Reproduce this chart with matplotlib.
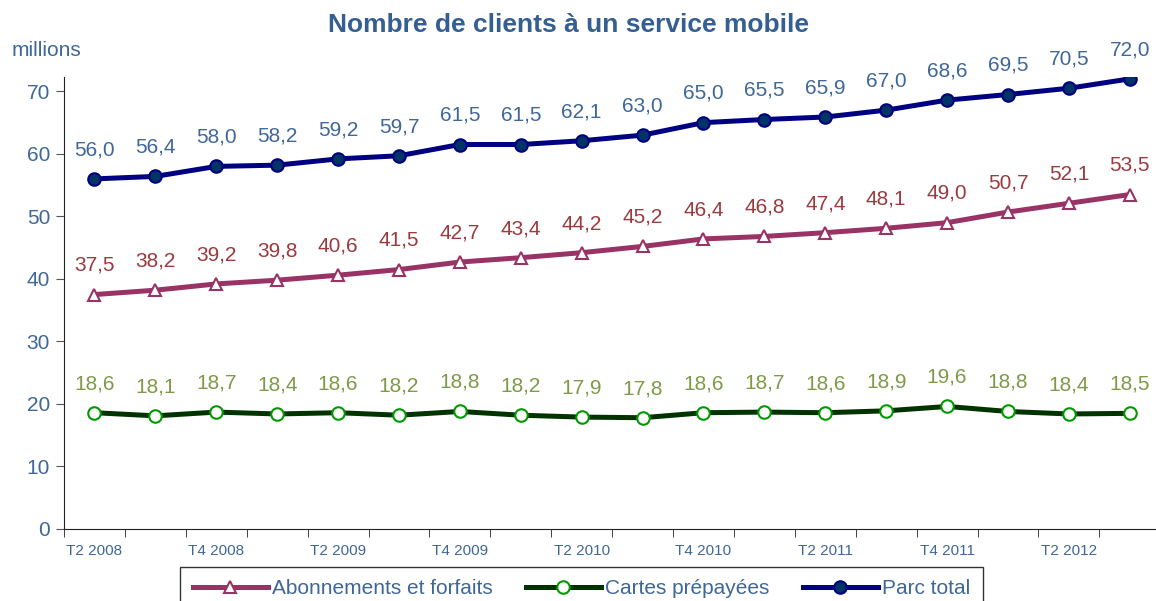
import matplotlib
matplotlib.use("Agg")
import matplotlib.pyplot as plt
import numpy as np

plt.rcParams['font.family'] = ['Liberation Sans', 'DejaVu Sans']

quarters = ["T2 2008", "T3 2008", "T4 2008", "T1 2009", "T2 2009", "T3 2009",
            "T4 2009", "T1 2010", "T2 2010", "T3 2010", "T4 2010", "T1 2011",
            "T2 2011", "T3 2011", "T4 2011", "T1 2012", "T2 2012", "T3 2012"]
abonnements = [37.5, 38.2, 39.2, 39.8, 40.6, 41.5, 42.7, 43.4, 44.2, 45.2,
               46.4, 46.8, 47.4, 48.1, 49.0, 50.7, 52.1, 53.5]
prepayees = [18.6, 18.1, 18.7, 18.4, 18.6, 18.2, 18.8, 18.2, 17.9, 17.8,
             18.6, 18.7, 18.6, 18.9, 19.6, 18.8, 18.4, 18.5]
parc_total = [56.0, 56.4, 58.0, 58.2, 59.2, 59.7, 61.5, 61.5, 62.1, 63.0,
              65.0, 65.5, 65.9, 67.0, 68.6, 69.5, 70.5, 72.0]

text_blue = "#3F6797"

fig = plt.figure(figsize=(11.56, 6.01), dpi=100)
ax = fig.add_axes([64 / 1156, 1 - 529 / 601, 1 - 64 / 1156, (529 - 77) / 601])

x = np.arange(len(quarters))

series = [
    (abonnements, "Abonnements et forfaits", "#993366", "^", "white", "#993366", "#9B3A3F"),
    (prepayees, "Cartes prépayées", "#003300", "o", "white", "#009900", "#7E9A48"),
    (parc_total, "Parc total", "#000080", "o", "#003366", "#000080", "#3F6797"),
]

for vals, name, lc, mk, mfc, mec, tc in series:
    ax.plot(x, vals, color=lc, lw=3.6, marker=mk, markersize=9, markerfacecolor=mfc,
            markeredgecolor=mec, markeredgewidth=1.5, label=name, zorder=3)
    for xi, v in zip(x, vals):
        ax.annotate(f"{v:.1f}".replace(".", ","), (xi, v), xytext=(0, 21),
                    textcoords="offset points", ha="center", va="center",
                    fontsize=15, color=tc)

ax.set_xlim(-0.5, 17.43)
ax.set_ylim(0, 72.3)
ax.set_yticks(np.arange(0, 71, 10))
ax.tick_params(axis='y', labelsize=15, labelcolor=text_blue, direction='out', length=6,
               color="#555555", pad=4)

ax.set_xticks(x[::2])
ax.set_xticklabels(quarters[::2])
ax.set_xticks(np.arange(-0.5, 17.5, 1), minor=True)
ax.tick_params(axis='x', which='major', length=0, labelsize=11, labelcolor=text_blue, pad=11)
ax.tick_params(axis='x', which='minor', length=6, direction='out', color="#222222")

for s in ["top", "right"]:
    ax.spines[s].set_visible(False)
ax.spines["left"].set_color("#222222")
ax.spines["bottom"].set_color("#222222")

fig.text(568 / 1156, 1 - 25 / 601, "Nombre de clients à un service mobile",
         ha="center", va="center", fontsize=19, fontweight="bold", color="#355E91")
fig.text(12 / 1156, 1 - 50 / 601, "millions", ha="left", va="center", fontsize=15, color=text_blue)

# legend box runs past the bottom edge, as in the source
leg = fig.legend(loc="upper left", bbox_to_anchor=(180 / 1156, 1 - 567 / 601), ncol=3,
                 fontsize=15, handlelength=3.6, frameon=True, fancybox=False,
                 edgecolor="black", borderpad=0.6, columnspacing=1.6, handletextpad=0.2,
                 borderaxespad=0)
leg.get_frame().set_linewidth(1.0)
for t in leg.get_texts():
    t.set_color(text_blue)

fig.savefig("out.png", dpi=100)
